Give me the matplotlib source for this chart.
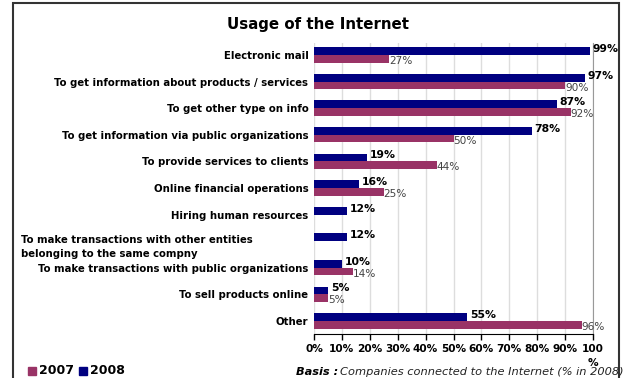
import numpy as np
import matplotlib.pyplot as plt
from matplotlib.patches import Rectangle

categories = [
    "Electronic mail",
    "To get information about products / services",
    "To get other type on info",
    "To get information via public organizations",
    "To provide services to clients",
    "Online financial operations",
    "Hiring human resources",
    "To make transactions with other entities\nbelonging to the same compny",
    "To make transactions with public organizations",
    "To sell products online",
    "Other",
]
share_2008 = [99, 97, 87, 78, 19, 16, 12, 12, 10, 5, 55]
share_2007 = [27, 90, 92, 50, 44, 25, np.nan, np.nan, 14, 5, 96]
tick_values = list(range(0, 101, 10))
tick_labels = [f"{v}%" for v in tick_values[:-1]] + ["100\n%"]

C2007 = "#993366"
C2008 = "#000080"

W, H = 623, 378
fig = plt.figure(figsize=(W / 100, H / 100), dpi=100)
ax = fig.add_axes([314 / W, 44 / H, 279 / W, 291 / H])

pos = np.arange(len(categories))
bh = 0.29
ax.barh(pos - bh / 2, share_2008, height=bh, color=C2008, zorder=3)
ax.barh(pos + bh / 2, share_2007, height=bh, color=C2007, zorder=3)

for y, v in zip(pos, share_2008):
    ax.annotate(f"{v}%", (v, y - bh / 2), xytext=(2, 1.5), textcoords="offset points",
                ha="left", va="center", fontsize=7.8, fontweight="bold", color="black")
for y, v in zip(pos, share_2007):
    if np.isnan(v):
        continue
    ax.annotate(f"{v:.0f}%", (v, y + bh / 2), xytext=(0, -1.5), textcoords="offset points",
                ha="left", va="center", fontsize=7.6, color="#444444")

ax.set_xlim(0, 100)
ax.set_ylim(10.49, -0.45)
ax.set_xticks(tick_values)
ax.set_xticklabels(tick_labels, fontsize=7.6, fontweight="bold", linespacing=1.5)
ax.tick_params(axis="x", direction="out", length=4, width=1, pad=3)
ax.xaxis.grid(True, color="#dddddd", lw=1, zorder=0)

ax.set_yticks(pos)
ylabels = [c if "\n" not in c else "" for c in categories]
ax.set_yticklabels(ylabels, fontsize=7.3, fontweight="bold")
ax.tick_params(axis="y", length=0, pad=4)

ax.spines["top"].set_visible(False)
ax.spines["left"].set_visible(False)
ax.spines["right"].set_color("#999999")
ax.spines["bottom"].set_color("black")

# two-line category sits on its own, left aligned
fig.text(21 / W, 1 - 247 / H, categories[7], ha="left", va="center",
         fontsize=7.3, fontweight="bold", linespacing=1.4)

fig.text(318 / W, 1 - 24 / H, "Usage of the Internet", ha="center", va="center",
         fontsize=10.8, fontweight="bold")

# legend along the bottom
fig.patches.append(Rectangle((28 / W, 1 - 375 / H), 8 / W, 8 / H,
                             transform=fig.transFigure, color=C2007))
fig.text(39 / W, 1 - 371 / H, "2007", ha="left", va="center", fontsize=9, fontweight="bold")
fig.patches.append(Rectangle((79 / W, 1 - 375 / H), 8 / W, 8 / H,
                             transform=fig.transFigure, color=C2008))
fig.text(90 / W, 1 - 371 / H, "2008", ha="left", va="center", fontsize=9, fontweight="bold")

fig.text(296 / W, 1 - 372 / H, "Basis :", ha="left", va="center",
         fontsize=8.2, fontweight="bold", style="italic")
fig.text(340 / W, 1 - 372 / H, "Companies connected to the Internet (% in 2008)",
         ha="left", va="center", fontsize=8.2, style="italic", color="#222222")

# outer frame
fig.patches.append(Rectangle((13 / W, -0.05), 606 / W, 1.05 - 3 / H,
                             transform=fig.transFigure, fill=False,
                             edgecolor="#333333", lw=1.5))

fig.savefig("out.png", dpi=100)
